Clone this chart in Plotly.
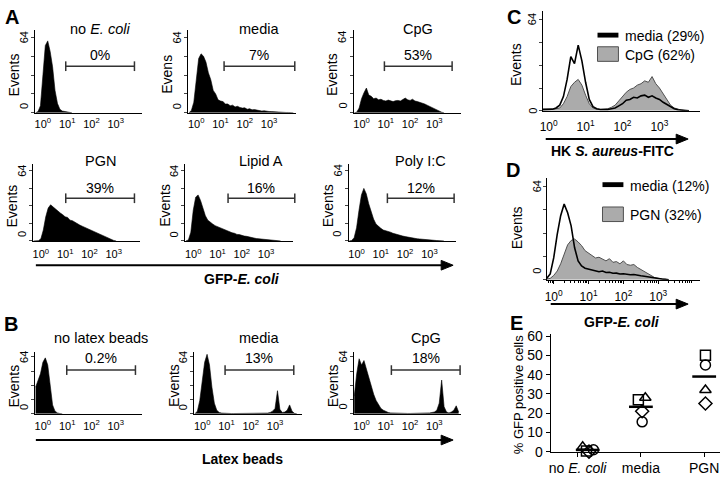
import math
import plotly.graph_objects as go

W, H = 720, 482
FONT = "Liberation Sans, Arial, sans-serif"

# ---------------- data ----------------
BINS = [-0.3, -0.2, -0.1, 0.0, 0.1, 0.2, 0.3, 0.4, 0.5, 0.6, 0.7, 0.8, 0.9, 1.0, 1.1,
        1.2, 1.3, 1.4, 1.5, 1.6, 1.7, 1.8, 1.9, 2.0, 2.1, 2.2, 2.3, 2.4, 2.5, 2.6,
        2.7, 2.8, 2.9, 3.0, 3.1, 3.2, 3.3, 3.4, 3.5, 3.6, 3.7, 3.8, 3.9, 4.0]
DECADES = [0, 1, 2, 3]
DECADE_LABELS = ["10<sup>0</sup>", "10<sup>1</sup>", "10<sup>2</sup>", "10<sup>3</sup>"]
Y_TICKS = [0, 16, 32, 48, 64]

A_NO_ECOLI = [0, 1, 6, 31, 57, 61, 52, 39, 19, 8, 3, 1.5, 1, 0.5, 0.2, 0]
A_MEDIA = [0, 2, 9, 28, 46, 50, 48, 43, 34, 28, 19, 16, 11, 10, 9.5, 7.5, 7.5, 6, 6.5, 5,
           5.5, 4.5, 4, 4.2, 3, 3.5, 2.5, 2.7, 2.2, 2, 1.5, 1.7, 1.2, 1.1, 1, 0.8, 0.8, 0.6,
           0.5, 0.5, 0.3, 0.3, 0.2, 0]
A_CPG = [0, 0.5, 4, 12, 17, 21, 15, 14, 12, 12.5, 11, 11.5, 10.5, 10, 10.8, 10, 9.5, 10.3,
         10.5, 10, 11, 12.5, 11, 10.5, 11.5, 10, 9.5, 9, 8.2, 7.5, 6.5, 5.5, 4, 3, 2, 1, 0.5, 0]
A_PGN = [0, 0, 0.3, 2, 10, 22, 30, 33, 31, 29.5, 27, 25.5, 24, 22, 21.5, 19, 18.5, 17, 15.5,
         14.5, 13.5, 12.5, 11.5, 10, 9.5, 8, 7.5, 6, 5.2, 4, 3, 2, 1, 0.5, 0]
A_LIPIDA = [0, 1, 8, 28, 40, 42, 37, 30, 23, 19, 17, 15.5, 14, 13, 12.5, 11, 10.5, 9, 8.5,
            7.5, 7, 6, 5.8, 5, 4.5, 4.2, 3.5, 3, 2.7, 2.2, 2, 1.5, 1.2, 1, 0.8, 0.6, 0.4, 0.3, 0.2, 0]
A_POLYIC = [0, 0.5, 3, 12, 28, 42, 48, 43, 34, 26, 20, 15.5, 13, 11.5, 10, 9.5, 8.5, 8, 7,
            6.2, 5.5, 5, 4.5, 4, 3.5, 3.2, 2.8, 2.5, 2, 1.8, 1.5, 1.5, 1.2, 1, 0.8, 0.6, 0.4, 0.3, 0.2, 0]

B_NO_BEADS = [30, 38, 45, 58, 63, 55, 30, 10, 3, 1, 0.3, 0]
B_MEDIA = [0, 3, 15, 40, 58, 67, 55, 30, 12, 4, 1.5, 0.8, 0.5, 0.4, 0.3, 0.3, 0.3, 0.3, 0.3,
           0.3, 0.3, 0.3, 0.3, 0.3, 0.3, 0.3, 0.3, 0.4, 0.5, 0.6, 0.8, 1.5, 3, 6, 26, 5, 1.5,
           2, 4, 10, 3, 0.5, 0]
B_CPG = [20, 45, 62, 55, 60, 50, 40, 30, 22, 15, 10, 6, 4, 2.5, 1.5, 1, 0.8, 0.6, 0.5, 0.5,
         0.4, 0.4, 0.4, 0.4, 0.4, 0.4, 0.4, 0.5, 0.5, 0.6, 0.8, 1, 1.5, 2, 4, 12, 38, 8, 2, 1,
         2, 4, 9, 2]

C_MEDIA = [1, 1, 1, 1.5, 1.2, 2, 4, 10, 22, 38, 33, 46, 35, 20, 8, 3, 1.5, 1, 0.8, 1, 1.5,
           2, 3.5, 5, 7.5, 8, 9.5, 9, 10.5, 11, 9.5, 10.5, 9, 8, 6, 4.5, 3, 1.5, 0.8, 0.4, 0.2, 0]
C_CPG = [0.5, 0.5, 0.5, 1, 1, 1.5, 2, 5, 10, 17, 20, 22, 18, 11, 5, 2, 1.2, 1, 1, 1.5, 2.5,
         4, 7, 10, 13, 15, 16, 18, 19, 21, 20, 24, 19, 16, 12, 8, 4, 2, 1, 0.5, 0.2, 0]
D_MEDIA = [0, 1, 4, 15, 31, 44, 52, 46, 37, 22, 13, 9.5, 8, 7.5, 6.5, 6.5, 5.5, 6, 5, 5.2,
           4.5, 4.6, 4, 4.2, 3.8, 3.5, 3.6, 3, 2.8, 2.5, 2, 1.5, 1, 0.8, 0.5, 0.3, 0]
D_PGN = [0, 0.5, 1, 3, 6, 11, 18, 24, 27, 28, 26, 23.5, 20, 18.5, 17, 15, 15.5, 14, 13, 14.5,
         12, 12.5, 11, 13, 10.5, 10, 10.5, 8.5, 7, 6, 4, 2.5, 1.5, 1, 0.5, 0.3, 0]

A_TITLES = ["no <i>E. coli</i>", "media", "CpG", "PGN", "Lipid A", "Poly I:C"]
A_PCTS = ["0%", "7%", "53%", "39%", "16%", "12%"]
B_TITLES = ["no latex beads", "media", "CpG"]
B_PCTS = ["0.2%", "13%", "18%"]
C_LEGEND = ["media (29%)", "CpG (62%)"]
D_LEGEND = ["media (12%)", "PGN (32%)"]

E_CATS = ["no <i>E. coli</i>", "media", "PGN"]
E_SQUARE = [0.3, 27, 50]
E_CIRCLE = [1, 15.5, 45]
E_TRIANGLE = [2.5, 28, 32]
E_DIAMOND = [0, 21, 25]
E_MEAN = [0.9, 23.3, 39]
E_YTICKS = [0, 10, 20, 30, 40, 50, 60]

# ---------------- helpers ----------------
def fx(p):
    return p / W


def fy(p):
    return 1 - p / H


fig = go.Figure()
layout = {}
shapes = []
annots = []
counter = [0]


def add_axes(left, right, top, bottom, xr, yr):
    counter[0] += 1
    i = counter[0]
    sx = "" if i == 1 else str(i)
    layout["xaxis" + sx] = dict(domain=[fx(left), fx(right)], anchor="y" + sx, range=xr,
                                showgrid=False, zeroline=False, showline=True,
                                linecolor="black", linewidth=1, fixedrange=True)
    layout["yaxis" + sx] = dict(domain=[fy(bottom), fy(top)], anchor="x" + sx, range=yr,
                                showgrid=False, zeroline=False, showline=True,
                                linecolor="black", linewidth=1, fixedrange=True)
    return "x" + sx, "y" + sx, sx


def text(x, y, t, size=13, angle=0, xanchor="center", color="black"):
    annots.append(dict(x=fx(x), y=fy(y), xref="paper", yref="paper", text=t,
                       showarrow=False, textangle=angle, xanchor=xanchor, yanchor="middle",
                       font=dict(family=FONT, size=size, color=color)))


def arrow(x0, x1, y):
    shapes.append(dict(type="line", xref="paper", yref="paper", x0=fx(x0), x1=fx(x1 - 8),
                       y0=fy(y), y1=fy(y), line=dict(color="black", width=2)))
    shapes.append(dict(type="path", xref="paper", yref="paper",
                       path=f"M {fx(x1)},{fy(y)} L {fx(x1 - 12)},{fy(y - 5)} L {fx(x1 - 12)},{fy(y + 5)} Z",
                       fillcolor="black", line=dict(color="black", width=1)))


def y_labels(left, top, bottom, ylab, zero_shift=7, off=11, ev_off=21):
    span = bottom - top
    y64 = bottom - 64 * span / 70.0
    text(left - off, y64, "64", size=11, angle=-90)
    text(left - off, bottom - zero_shift, "0", size=11, angle=-90)
    text(left - ev_off, (top + bottom) / 2 + 3, ylab, size=14, angle=-90)


HIST_WIDTH = 108
XR = [-0.33, 4.1]
YR = [0, 70]


def histogram(vals, left, top, bottom, title, pct, gate, ty, py_, gy, ylab, standoff):
    xa, ya, sx = add_axes(left, left + HIST_WIDTH, top, bottom, XR, YR)
    layout["xaxis" + sx].update(tickvals=DECADES, ticktext=DECADE_LABELS, ticks="",
                                tickfont=dict(family=FONT, size=11, color="black"),
                                ticklabelstandoff=standoff)
    layout["yaxis" + sx].update(tickvals=Y_TICKS, ticks="outside", ticklen=3,
                                showticklabels=False)
    fig.add_trace(go.Scatter(x=BINS[:len(vals)], y=vals, xaxis=xa, yaxis=ya, mode="lines",
                             line=dict(color="black", width=0.6), fill="tozeroy",
                             fillcolor="black", hoverinfo="skip", showlegend=False))
    g0, g1 = gate
    cx = (g0 + g1) / 2
    text(cx, ty, title, size=14.5)
    text(cx, py_, pct, size=14)
    bc = "#333333"
    shapes.append(dict(type="line", xref="paper", yref="paper", x0=fx(g0), x1=fx(g1),
                       y0=fy(gy), y1=fy(gy), line=dict(color=bc, width=1.5)))
    for g in gate:
        shapes.append(dict(type="line", xref="paper", yref="paper", x0=fx(g), x1=fx(g),
                           y0=fy(gy - 5), y1=fy(gy + 5), line=dict(color=bc, width=1.5)))
    y_labels(left, top, bottom, ylab)


# ---------------- panel A ----------------
A_DATA = [A_NO_ECOLI, A_MEDIA, A_CPG, A_PGN, A_LIPIDA, A_POLYIC]
A_LEFT = [32, 186, 352, 30, 183, 347]
A_GATES = [(63, 132), (222, 293), (383, 451), (63, 132), (226, 293), (386, 453)]
A_YLAB = ["Events", "Evens", "Events", "Events", "Events", "Events"]
for i in range(6):
    if i < 3:
        top, bottom, ty, py_, gy, so = 25, 110, 24, 50, 62, 1
    else:
        top, bottom, ty, py_, gy, so = 163, 242, 160, 187, 198, 3
    histogram(A_DATA[i], A_LEFT[i], top, bottom, A_TITLES[i], A_PCTS[i], A_GATES[i],
              ty, py_, gy, A_YLAB[i], so)
arrow(33, 452, 267)
text(240, 281, "<b>GFP-<i>E. coli</i></b>", size=14)

# ---------------- panel B ----------------
B_DATA = [B_NO_BEADS, B_MEDIA, B_CPG]
B_LEFT = [32, 192, 352]
B_GATES = [(64, 133), (223, 292), (390, 459)]
for i in range(3):
    histogram(B_DATA[i], B_LEFT[i], 356, 420, B_TITLES[i], B_PCTS[i], B_GATES[i],
              342, 363, 375, "Events", 2)
arrow(33, 452, 447)
text(240, 467, "<b>Latex beads</b>", size=14)

GRAY = "#ababab"
GRAY_LINE = "#505050"


def overlay(left, right, top, bottom, xr, gray_vals, black_vals, standoff, zero_shift,
            minor=False):
    xa, ya, sx = add_axes(left, right, top, bottom, xr, YR)
    layout["xaxis" + sx].update(tickvals=DECADES, ticktext=DECADE_LABELS, ticks="",
                                tickfont=dict(family=FONT, size=12, color="black"),
                                ticklabelstandoff=standoff)
    if minor:
        mv = [d + math.log10(k) for d in range(-1, 5) for k in range(2, 10)]
        mv = [v for v in mv if xr[0] < v < xr[1]]
        layout["xaxis" + sx].update(ticks="outside", ticklen=3, tickcolor="black",
                                    minor=dict(tickvals=mv, ticks="outside", ticklen=2,
                                               tickcolor="black"))
    layout["yaxis" + sx].update(tickvals=Y_TICKS, ticks="outside", ticklen=3,
                                showticklabels=False)
    fig.add_trace(go.Scatter(x=BINS[:len(gray_vals)], y=gray_vals, xaxis=xa, yaxis=ya,
                             mode="lines", line=dict(color=GRAY_LINE, width=1),
                             fill="tozeroy", fillcolor=GRAY, hoverinfo="skip",
                             showlegend=False))
    fig.add_trace(go.Scatter(x=BINS[:len(black_vals)], y=black_vals, xaxis=xa, yaxis=ya,
                             mode="lines", line=dict(color="black", width=1.6),
                             hoverinfo="skip", showlegend=False))
    span = bottom - top
    text(left - 10, bottom - 64 * span / 70.0, "64", size=11, angle=-90)
    text(left - 10, bottom - zero_shift, "0", size=11, angle=-90)


def legend(x0, yb, yg0, yg1, labels):
    shapes.append(dict(type="rect", xref="paper", yref="paper", x0=fx(x0), x1=fx(x0 + 21),
                       y0=fy(yb - 2.5), y1=fy(yb + 2.5), fillcolor="black",
                       line=dict(color="black", width=0)))
    shapes.append(dict(type="rect", xref="paper", yref="paper", x0=fx(x0), x1=fx(x0 + 21),
                       y0=fy(yg0), y1=fy(yg1), fillcolor=GRAY,
                       line=dict(color=GRAY_LINE, width=1)))
    text(x0 + 26, yb + 1, labels[0], size=14, xanchor="left")
    text(x0 + 26, (yg0 + yg1) / 2 + 1, labels[1], size=14, xanchor="left")


# ---------------- panel C ----------------
overlay(542, 700, 5, 108, [-0.16, 4.1], C_CPG, C_MEDIA, 5, 0)
legend(597, 30, 42, 57, C_LEGEND)
text(515, 60, "Events", size=14, angle=-90)
arrow(545, 688, 137)
text(612, 149, "<b>HK <i>S. aureus</i>-FITC</b>", size=14)

# ---------------- panel D ----------------
overlay(546, 700, 177, 282, [-0.2, 4.2], D_PGN, D_MEDIA, 3, 9, minor=True)
legend(602, 184, 207, 222, D_LEGEND)
text(517, 228, "Events", size=14, angle=-90)
arrow(550, 688, 307)
text(622, 325, "<b>GFP-<i>E. coli</i></b>", size=14)

# ---------------- panel E ----------------
xa, ya, sx = add_axes(550, 720, 338, 459, [-0.425, 2.25], [0, 61])
layout["xaxis" + sx].update(tickvals=[0, 1, 2], ticktext=E_CATS, ticks="outside", ticklen=4,
                            tickcolor="black", tickfont=dict(family=FONT, size=14, color="black"))
layout["yaxis" + sx].update(tickvals=E_YTICKS, ticks="outside", ticklen=4, tickcolor="black",
                            tickfont=dict(family=FONT, size=14, color="black"))
E_JITTER = {
    "square": [0.14, -0.04, 0.02],
    "circle": [0.25, 0.02, 0.02],
    "triangle-up": [0.08, 0.07, 0.02],
    "diamond": [0.18, 0.02, 0.02],
    "mean": [0.16, 0.0, 0.0],
}
for sym, vals in [("square", E_SQUARE), ("circle", E_CIRCLE),
                  ("triangle-up", E_TRIANGLE), ("diamond", E_DIAMOND)]:
    fig.add_trace(go.Scatter(x=[c + j for c, j in zip([0, 1, 2], E_JITTER[sym])], y=vals,
                             xaxis=xa, yaxis=ya, mode="markers", cliponaxis=False,
                             marker=dict(symbol=sym + "-open", size=10, color="black",
                                         line=dict(color="black", width=1.5)),
                             hoverinfo="skip", showlegend=False))
fig.add_trace(go.Scatter(x=[c + j for c, j in zip([0, 1, 2], E_JITTER["mean"])], y=E_MEAN,
                         xaxis=xa, yaxis=ya, mode="markers", cliponaxis=False,
                         marker=dict(symbol="line-ew", size=17,
                                     line=dict(color="black", width=2.5)),
                         hoverinfo="skip", showlegend=False))
text(518, 400, "% GFP positive cells", size=13, angle=-90)

# panel letters
for lab, x, y in [("A", 9, 11), ("B", 8, 327), ("C", 513, 11), ("D", 512, 169), ("E", 516, 326)]:
    text(x, y, "<b>" + lab + "</b>", size=20)

fig.update_layout(**layout)
fig.update_layout(width=W, height=H, autosize=False, margin=dict(l=0, r=0, t=0, b=0),
                  paper_bgcolor="white", plot_bgcolor="white",
                  font=dict(family=FONT, color="black"),
                  shapes=shapes, annotations=annots)
fig.write_html("out.html", config={"displayModeBar": False},
               post_script="document.body.style.margin='0px';document.body.style.padding='0px';")
